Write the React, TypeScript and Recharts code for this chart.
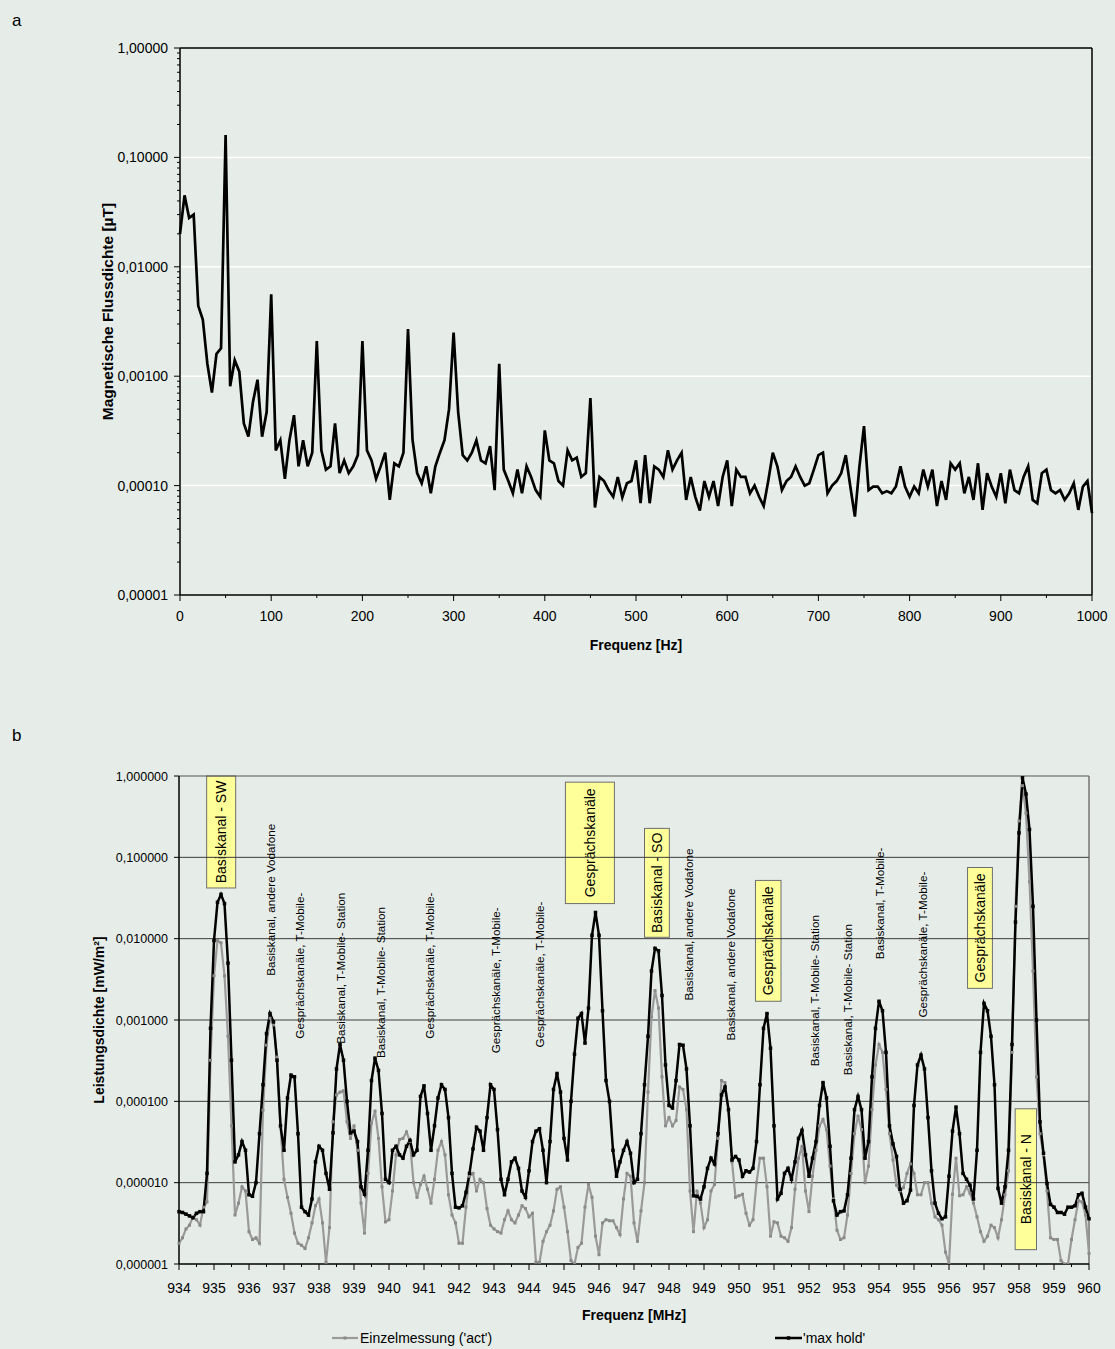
import React from "react";
import { LineChart, Line, XAxis, YAxis, ReferenceLine, ReferenceDot, ReferenceArea } from "recharts";

const BG = "#e6ede9";
const FONT = "'Liberation Sans', Arial, Helvetica, sans-serif";

// a) Magnetische Flussdichte 0–1000 Hz, eine Stützstelle alle 5 Hz
const HZ_STEP = 5;
const fluxUT = [
  0.02, 0.045, 0.028, 0.03, 4.4e-3, 3.3e-3, 1.3e-3, 7.1e-4, 1.6e-3, 1.8e-3,
  0.16, 8.1e-4, 1.4e-3, 1.1e-3, 3.7e-4, 2.8e-4, 5.8e-4, 9.3e-4, 2.8e-4, 4.7e-4,
  5.6e-3, 2.1e-4, 2.6e-4, 1.15e-4, 2.6e-4, 4.4e-4, 1.5e-4, 2.6e-4, 1.5e-4, 2.0e-4,
  2.1e-3, 2.1e-4, 1.4e-4, 1.5e-4, 3.7e-4, 1.3e-4, 1.7e-4, 1.3e-4, 1.5e-4, 1.9e-4,
  2.1e-3, 2.1e-4, 1.7e-4, 1.15e-4, 1.5e-4, 2.0e-4, 7.4e-5, 1.6e-4, 1.5e-4, 2.0e-4,
  2.7e-3, 2.6e-4, 1.3e-4, 1.05e-4, 1.5e-4, 8.5e-5, 1.5e-4, 2.0e-4, 2.6e-4, 5.0e-4,
  2.5e-3, 4.7e-4, 1.9e-4, 1.7e-4, 2.0e-4, 2.6e-4, 1.7e-4, 1.6e-4, 2.3e-4, 9.1e-5,
  1.3e-3, 1.4e-4, 1.1e-4, 8.5e-5, 1.4e-4, 8.5e-5, 1.5e-4, 1.2e-4, 9.1e-5, 7.9e-5,
  3.2e-4, 1.7e-4, 1.6e-4, 1.1e-4, 1.0e-4, 2.1e-4, 1.7e-4, 1.8e-4, 1.2e-4, 1.3e-4,
  6.3e-4, 6.3e-5, 1.2e-4, 1.1e-4, 9.1e-5, 7.9e-5, 1.2e-4, 7.8e-5, 1.05e-4, 1.1e-4,
  1.7e-4, 6.9e-5, 1.9e-4, 6.9e-5, 1.5e-4, 1.4e-4, 1.2e-4, 2.1e-4, 1.4e-4, 1.7e-4,
  2.0e-4, 7.4e-5, 1.2e-4, 7.9e-5, 5.9e-5, 1.1e-4, 7.9e-5, 1.1e-4, 6.5e-5, 1.2e-4,
  1.7e-4, 6.5e-5, 1.4e-4, 1.2e-4, 1.2e-4, 8.5e-5, 1.0e-4, 7.9e-5, 6.5e-5, 1.1e-4,
  2.0e-4, 1.5e-4, 9.1e-5, 1.1e-4, 1.2e-4, 1.5e-4, 1.2e-4, 1.0e-4, 1.05e-4, 1.4e-4,
  1.9e-4, 2.0e-4, 8.5e-5, 1.0e-4, 1.1e-4, 1.3e-4, 1.9e-4, 9.8e-5, 5.2e-5, 1.5e-4,
  3.5e-4, 9.1e-5, 9.8e-5, 9.8e-5, 8.5e-5, 8.9e-5, 8.5e-5, 9.8e-5, 1.5e-4, 9.8e-5,
  7.9e-5, 9.8e-5, 8.5e-5, 1.4e-4, 9.8e-5, 1.4e-4, 6.5e-5, 1.1e-4, 7.4e-5, 1.6e-4,
  1.4e-4, 1.6e-4, 8.5e-5, 1.2e-4, 7.4e-5, 1.6e-4, 6.0e-5, 1.3e-4, 9.8e-5, 7.9e-5,
  1.3e-4, 6.9e-5, 1.4e-4, 9.1e-5, 8.5e-5, 1.2e-4, 1.5e-4, 7.4e-5, 6.9e-5, 1.3e-4,
  1.4e-4, 9.1e-5, 8.5e-5, 9.1e-5, 7.4e-5, 8.5e-5, 1.05e-4, 6.0e-5, 9.8e-5, 1.1e-4,
  5.6e-5,
];
const hzTicks = [0, 50, 100, 150, 200, 250, 300, 350, 400, 450, 500, 550, 600, 650, 700, 750, 800, 850, 900, 950, 1000];
const fluxDecades = [1e-5, 1e-4, 1e-3, 1e-2, 1e-1, 1];

// b) Leistungsdichte 934–960 MHz, Schritt 0,1 MHz
const MHZ_START = 934;
const MHZ_STEP = 0.1;
const maxHold = [
  4.4e-6, 4.3e-6, 4.1e-6, 3.9e-6, 3.7e-6, 4.2e-6, 4.4e-6, 4.4e-6, 1.3e-5, 7.9e-4,
  9.5e-3, 2.8e-2, 3.5e-2, 2.7e-2, 5.0e-3, 3.2e-4, 1.8e-5, 2.2e-5, 3.2e-5, 2.5e-5,
  7.1e-6, 6.8e-6, 1.0e-5, 4.0e-5, 1.6e-4, 6.8e-4, 1.2e-3, 9.5e-4, 3.2e-4, 5.0e-5,
  2.5e-5, 1.1e-4, 2.1e-4, 2.0e-4, 4.0e-5, 5.0e-6, 4.4e-6, 4.0e-6, 6.3e-6, 1.8e-5,
  2.8e-5, 2.5e-5, 1.3e-5, 8.3e-6, 4.1e-5, 2.5e-4, 5.0e-4, 3.2e-4, 1.0e-4, 4.1e-5,
  4.3e-5, 3.2e-5, 8.9e-6, 7.2e-6, 2.5e-5, 1.8e-4, 3.4e-4, 2.4e-4, 7.1e-5, 1.1e-5,
  1.0e-5, 2.5e-5, 2.8e-5, 2.2e-5, 2.0e-5, 2.8e-5, 3.3e-5, 2.2e-5, 2.5e-5, 1.15e-4,
  1.55e-4, 7.1e-5, 2.5e-5, 5.0e-5, 1.1e-4, 1.6e-4, 1.4e-4, 6.3e-5, 1.3e-5, 5.0e-6,
  4.9e-6, 5.2e-6, 7.6e-6, 1.3e-5, 2.6e-5, 4.8e-5, 4.3e-5, 2.5e-5, 6.3e-5, 1.6e-4,
  1.4e-4, 4.5e-5, 1.1e-5, 7.1e-6, 1.1e-5, 1.8e-5, 2.0e-5, 1.5e-5, 7.9e-6, 6.6e-6,
  1.4e-5, 3.2e-5, 4.3e-5, 4.6e-5, 2.5e-5, 1.0e-5, 3.2e-5, 1.4e-4, 2.2e-4, 1.3e-4,
  3.5e-5, 1.9e-5, 1.0e-4, 3.8e-4, 1.05e-3, 1.2e-3, 5.2e-4, 1.4e-3, 1.1e-2, 2.1e-2,
  1.1e-2, 1.3e-3, 1.8e-4, 1.0e-4, 2.5e-5, 1.2e-5, 1.8e-5, 2.5e-5, 3.2e-5, 2.3e-5,
  1.0e-5, 1.1e-5, 4.0e-5, 1.6e-4, 6.3e-4, 4.0e-3, 7.6e-3, 7.1e-3, 2.0e-3, 2.8e-4,
  8.9e-5, 8.3e-5, 1.8e-4, 5.0e-4, 4.9e-4, 2.5e-4, 5.0e-5, 6.9e-6, 6.8e-6, 6.3e-6,
  8.9e-6, 1.5e-5, 2.0e-5, 1.7e-5, 4.0e-5, 1.2e-4, 1.5e-4, 7.9e-5, 1.9e-5, 2.1e-5,
  1.9e-5, 1.2e-5, 1.4e-5, 1.35e-5, 1.5e-5, 3.2e-5, 1.6e-4, 7.9e-4, 1.2e-3, 4.5e-4,
  5.0e-5, 6.3e-6, 7.4e-6, 1.3e-5, 1.5e-5, 1.1e-5, 1.8e-5, 3.5e-5, 4.4e-5, 2.2e-5,
  1.2e-5, 2.0e-5, 3.2e-5, 8.9e-5, 1.7e-4, 1.1e-4, 2.8e-5, 6.0e-6, 4.0e-6, 4.4e-6,
  4.5e-6, 7.1e-6, 2.0e-5, 7.9e-5, 1.15e-4, 7.9e-5, 2.0e-5, 3.2e-5, 2.0e-4, 7.9e-4,
  1.7e-3, 1.3e-3, 4.0e-4, 5.0e-5, 3.0e-5, 2.1e-5, 8.3e-6, 5.6e-6, 6.0e-6, 8.1e-6,
  8.9e-5, 2.8e-4, 3.7e-4, 2.5e-4, 6.3e-5, 1.4e-5, 5.6e-6, 4.2e-6, 3.6e-6, 3.8e-6,
  1.2e-5, 4.3e-5, 8.5e-5, 4.0e-5, 1.3e-5, 1.1e-5, 9.3e-6, 6.3e-6, 2.5e-5, 4.0e-4,
  1.6e-3, 1.3e-3, 6.3e-4, 1.6e-4, 8.5e-6, 5.6e-6, 8.9e-6, 2.5e-5, 5.0e-4, 1.6e-2,
  0.2, 0.95, 0.6, 0.22, 2.5e-2, 1.0e-3, 5.6e-5, 2.3e-5, 9.8e-6, 5.4e-6,
  5.0e-6, 4.3e-6, 4.3e-6, 4.1e-6, 5.0e-6, 5.0e-6, 5.2e-6, 7.1e-6, 7.4e-6, 5.0e-6,
  3.6e-6,
];
const act = [
  1.8e-6, 2.1e-6, 2.7e-6, 3.0e-6, 3.8e-6, 3.5e-6, 3.0e-6, 5.0e-6, 5.8e-6, 3.2e-4,
  3.5e-3, 9.5e-3, 8.9e-3, 3.5e-3, 6.3e-4, 5.0e-5, 4.0e-6, 5.6e-6, 8.9e-6, 7.9e-6,
  2.5e-6, 2.0e-6, 2.1e-6, 1.8e-6, 7.8e-5, 4.9e-4, 1.05e-3, 8.7e-4, 3.5e-4, 5.0e-5,
  1.1e-5, 6.6e-6, 4.2e-6, 2.4e-6, 1.8e-6, 1.7e-6, 1.55e-6, 2.1e-6, 3.2e-6, 5.2e-6,
  6.3e-6, 3.2e-6, 1.05e-6, 2.8e-6, 5.6e-5, 1.2e-4, 1.3e-4, 1.35e-4, 5.6e-5, 3.5e-5,
  5.0e-5, 2.5e-5, 5.6e-6, 2.4e-6, 1.3e-5, 5.4e-5, 7.6e-5, 3.5e-5, 8.9e-6, 3.3e-6,
  3.5e-6, 7.9e-6, 2.2e-5, 3.4e-5, 3.5e-5, 4.2e-5, 3.2e-5, 1.0e-5, 6.6e-6, 9.5e-6,
  1.2e-5, 8.3e-6, 5.6e-6, 1.1e-5, 2.5e-5, 3.2e-5, 2.2e-5, 7.1e-6, 4.0e-6, 3.2e-6,
  1.8e-6, 1.8e-6, 5.0e-6, 1.2e-5, 1.3e-5, 7.9e-6, 1.1e-5, 1.0e-5, 4.8e-6, 3.0e-6,
  2.7e-6, 2.5e-6, 2.4e-6, 3.5e-6, 4.5e-6, 3.5e-6, 3.2e-6, 4.0e-6, 5.2e-6, 4.8e-6,
  3.8e-6, 4.2e-6, 1.05e-6, 1.05e-6, 1.9e-6, 2.5e-6, 3.0e-6, 4.5e-6, 8.3e-6, 8.9e-6,
  5.0e-6, 2.5e-6, 1.1e-6, 1.0e-6, 1.6e-6, 1.8e-6, 5.0e-6, 9.5e-6, 6.6e-6, 2.2e-6,
  1.3e-6, 3.2e-6, 3.5e-6, 3.4e-6, 3.4e-6, 2.8e-6, 2.3e-6, 6.3e-6, 1.3e-5, 1.2e-5,
  3.2e-6, 1.9e-6, 4.5e-6, 1.0e-5, 1.3e-4, 1.1e-3, 2.3e-3, 1.4e-3, 2.0e-4, 5.0e-5,
  6.3e-5, 5.0e-5, 5.8e-5, 1.5e-4, 1.4e-4, 7.9e-5, 7.9e-6, 2.5e-6, 7.9e-6, 5.6e-6,
  2.8e-6, 3.5e-6, 7.9e-6, 9.5e-6, 3.5e-5, 1.8e-4, 1.7e-4, 7.9e-5, 1.8e-5, 6.6e-6,
  6.9e-6, 7.2e-6, 4.2e-6, 3.0e-6, 3.5e-6, 1.0e-5, 2.0e-5, 2.0e-5, 8.9e-6, 2.2e-6,
  3.3e-6, 3.2e-6, 2.2e-6, 2.1e-6, 1.9e-6, 2.8e-6, 8.3e-6, 2.0e-5, 2.8e-5, 7.9e-6,
  4.4e-6, 1.2e-5, 2.5e-5, 5.0e-5, 6.0e-5, 4.5e-5, 1.6e-5, 6.3e-6, 2.6e-6, 2.0e-6,
  2.1e-6, 4.0e-6, 1.3e-5, 4.0e-5, 6.6e-5, 4.5e-5, 1.0e-5, 1.6e-5, 7.9e-5, 2.8e-4,
  5.0e-4, 4.0e-4, 1.4e-4, 4.0e-5, 1.9e-5, 9.3e-6, 7.9e-6, 8.7e-6, 1.3e-5, 1.7e-5,
  1.3e-5, 7.1e-6, 7.1e-6, 1.0e-5, 1.0e-5, 5.6e-6, 3.8e-6, 3.5e-6, 3.0e-6, 1.4e-6,
  1.0e-6, 7.2e-6, 2.0e-5, 6.9e-6, 7.1e-6, 8.9e-6, 7.4e-6, 5.6e-6, 3.8e-6, 2.5e-6,
  1.9e-6, 2.2e-6, 3.0e-6, 2.8e-6, 2.1e-6, 3.5e-6, 7.1e-6, 1.4e-5, 4.0e-4, 2.5e-2,
  0.28, 0.76, 0.35, 5.0e-2, 4.0e-3, 2.0e-4, 4.0e-5, 2.2e-5, 7.9e-6, 2.1e-6,
  2.0e-6, 2.0e-6, 1.1e-6, 1.0e-6, 1.0e-6, 2.0e-6, 3.5e-6, 6.0e-6, 5.8e-6, 4.0e-6,
  1.35e-6,
];
const powerDecades = [1e-6, 1e-5, 1e-4, 1e-3, 1e-2, 1e-1, 1];

// Beschriftungen der Kanäle (Frequenz, Leistungsdichte am Textanfang)
const channelNotes = [
  { f: 936.62, v: 3.5e-3, text: "Basiskanal, andere Vodafone" },
  { f: 937.45, v: 5.9e-4, text: "Gesprächskanäle, T-Mobile-" },
  { f: 938.64, v: 5.1e-4, text: "Basiskanal, T-Mobile- Station" },
  { f: 939.76, v: 3.4e-4, text: "Basiskanal, T-Mobile- Station" },
  { f: 941.16, v: 5.9e-4, text: "Gesprächskanäle, T-Mobile-" },
  { f: 943.07, v: 3.9e-4, text: "Gesprächskanäle, T-Mobile-" },
  { f: 944.31, v: 4.6e-4, text: "Gesprächskanäle, T-Mobile-" },
  { f: 948.57, v: 1.74e-3, text: "Basiskanal, andere Vodafone" },
  { f: 949.76, v: 5.6e-4, text: "Basiskanal, andere Vodafone" },
  { f: 952.16, v: 2.7e-4, text: "Basiskanal, T-Mobile- Station" },
  { f: 953.11, v: 2.1e-4, text: "Basiskanal, T-Mobile- Station" },
  { f: 954.02, v: 5.6e-3, text: "Basiskanal, T-Mobile-" },
  { f: 955.26, v: 1.07e-3, text: "Gesprächskanäle, T-Mobile-" },
];
const boxNotes = [
  { f1: 934.79, f2: 935.62, v1: 0.042, v2: 1, text: "Basiskanal - SW" },
  { f1: 945.04, f2: 946.44, v1: 0.027, v2: 0.84, text: "Gesprächskanäle" },
  { f1: 947.3, f2: 948.01, v1: 1.04e-2, v2: 0.227, text: "Basiskanal - SO" },
  { f1: 950.47, f2: 951.2, v1: 1.7e-3, v2: 0.052, text: "Gesprächskanäle" },
  { f1: 956.53, f2: 957.24, v1: 2.45e-3, v2: 0.075, text: "Gesprächskanäle" },
  { f1: 957.89, f2: 958.5, v1: 1.5e-6, v2: 8.1e-5, text: "Basiskanal - N" },
];

const topData = fluxUT.map((v, i) => ({ f: i * HZ_STEP, v }));
const bottomData = maxHold.map((v, i) => ({
  f: Math.round((MHZ_START + i * MHZ_STEP) * 10) / 10,
  max: v,
  act: act[i],
}));

const fluxTicks: number[] = [];
fluxDecades.forEach((d) => {
  if (d >= 1) { fluxTicks.push(d); return; }
  for (let m = 1; m <= 9; m++) fluxTicks.push(d * m);
});
const mhzTicks = Array.from({ length: 53 }, (_, i) => MHZ_START + i * 0.5);

const comma = (v: number, d: number) => v.toFixed(d).replace(".", ",");
const isDecade = (v: number) => Math.abs(Math.log10(v) - Math.round(Math.log10(v))) < 1e-6;

const FluxYTick = ({ x, y, payload }: any) => {
  const major = isDecade(payload.value);
  return (
    <g>
      <line x1={x - (major ? 6 : 3)} x2={x} y1={y} y2={y} stroke="#000" />
      {major && (
        <text x={x - 12} y={y + 5} textAnchor="end" fontSize={14} fontFamily={FONT} fill="#000">
          {comma(payload.value, 5)}
        </text>
      )}
    </g>
  );
};

const HzTick = ({ x, y, payload }: any) => {
  const major = payload.value % 100 === 0;
  return (
    <g>
      <line x1={x} x2={x} y1={y} y2={y + (major ? 6 : 3)} stroke="#000" />
      {major && (
        <text x={x} y={y + 26} textAnchor="middle" fontSize={14} fontFamily={FONT} fill="#000">
          {payload.value}
        </text>
      )}
    </g>
  );
};

const PowerYTick = ({ x, y, payload }: any) => (
  <g>
    <line x1={x - 5} x2={x} y1={y} y2={y} stroke="#000" />
    <text x={x - 11} y={y + 4.5} textAnchor="end" fontSize={12.5} fontFamily={FONT} fill="#000">
      {comma(payload.value, 6)}
    </text>
  </g>
);

const MhzTick = ({ x, y, payload }: any) => {
  const major = Number.isInteger(payload.value);
  return (
    <g>
      <line x1={x} x2={x} y1={y} y2={y + (major ? 6 : 3)} stroke="#000" />
      {major && (
        <text x={x} y={y + 29} textAnchor="middle" fontSize={14} fontFamily={FONT} fill="#000">
          {payload.value}
        </text>
      )}
    </g>
  );
};

const squareDot = (color: string, size: number) => (p: any) => {
  if (p.cx == null || p.cy == null) return <g key={p.index} />;
  return <rect key={p.index} x={p.cx - size / 2} y={p.cy - size / 2} width={size} height={size} fill={color} />;
};

const xTitle = (text: string, dy: number) => (p: any) => {
  const vb = p.viewBox;
  return (
    <text x={vb.x + vb.width / 2} y={vb.y + dy} textAnchor="middle" fontSize={14} fontWeight="bold" fontFamily={FONT} fill="#000">
      {text}
    </text>
  );
};

const yTitle = (text: string, cx: number, size: number, shift: number) => (p: any) => {
  const vb = p.viewBox;
  const cy = vb.y + vb.height / 2 + shift;
  return (
    <text transform={`rotate(-90 ${cx} ${cy})`} x={cx} y={cy} textAnchor="middle" dominantBaseline="central" fontSize={size} fontWeight="bold" fontFamily={FONT} fill="#000">
      {text}
    </text>
  );
};

export default function App() {
  return (
    <div style={{ position: "absolute", left: 0, top: 0, width: 1115, height: 1349, background: BG, fontFamily: FONT }}>
      <svg style={{ position: "absolute", left: 0, top: 0 }} width={60} height={760}>
        <text x={12} y={26} fontSize={17} fontFamily={FONT} fill="#000">a</text>
        <text x={12} y={741} fontSize={17} fontFamily={FONT} fill="#000">b</text>
      </svg>

      <div style={{ position: "absolute", left: 0, top: 0 }}>
        <LineChart width={1115} height={655} data={topData} margin={{ top: 48, right: 23, bottom: 0, left: 0 }}>
          {[1e-4, 1e-3, 1e-2, 1e-1].map((d) => (
            <ReferenceLine key={d} y={d} stroke="#ffffff" strokeWidth={1.5} />
          ))}
          <ReferenceLine y={1} stroke="#000" strokeWidth={1.5} />
          <ReferenceLine x={1000} stroke="#000" strokeWidth={1.5} />
          <XAxis
            dataKey="f"
            type="number"
            domain={[0, 1000]}
            ticks={hzTicks}
            interval={0}
            height={60}
            tickSize={0}
            tickMargin={0}
            tickLine={false}
            axisLine={{ stroke: "#000", strokeWidth: 1.5 }}
            tick={<HzTick />}
            label={{ content: xTitle("Frequenz [Hz]", 55) }}
          />
          <YAxis
            type="number"
            scale="log"
            domain={[1e-5, 1]}
            allowDataOverflow
            ticks={fluxTicks}
            interval={0}
            width={180}
            tickSize={0}
            tickMargin={0}
            tickLine={false}
            axisLine={{ stroke: "#000", strokeWidth: 1.5 }}
            tick={<FluxYTick />}
            label={{ content: yTitle("Magnetische Flussdichte [µT]", 107, 15.5, -10) }}
          />
          <Line dataKey="v" type="linear" stroke="#000" strokeWidth={2.7} dot={false} activeDot={false} isAnimationActive={false} />
        </LineChart>
      </div>

      <div style={{ position: "absolute", left: 0, top: 700 }}>
        <LineChart width={1115} height={624} data={bottomData} margin={{ top: 76, right: 26, bottom: 0, left: 0 }}>
          {[1e-5, 1e-4, 1e-3, 1e-2, 1e-1].map((d) => (
            <ReferenceLine key={d} y={d} stroke="#3c3c3c" strokeWidth={1} />
          ))}
          <ReferenceLine y={1} stroke="#555" strokeWidth={1.2} />
          <ReferenceLine x={960} stroke="#555" strokeWidth={1.2} />
          <XAxis
            dataKey="f"
            type="number"
            domain={[934, 960]}
            ticks={mhzTicks}
            interval={0}
            height={60}
            tickSize={0}
            tickMargin={0}
            tickLine={false}
            axisLine={{ stroke: "#000", strokeWidth: 1.5 }}
            tick={<MhzTick />}
            label={{ content: xTitle("Frequenz [MHz]", 56) }}
          />
          <YAxis
            type="number"
            scale="log"
            domain={[1e-6, 1]}
            allowDataOverflow
            ticks={powerDecades}
            interval={0}
            width={179}
            tickSize={0}
            tickMargin={0}
            tickLine={false}
            axisLine={{ stroke: "#000", strokeWidth: 1.5 }}
            tick={<PowerYTick />}
            label={{ content: yTitle("Leistungsdichte [mW/m²]", 99, 14, 0) }}
          />
          <Line dataKey="act" type="linear" stroke="#9a9a9a" strokeWidth={2.2} dot={squareDot("#8a8a8a", 3)} activeDot={false} isAnimationActive={false} />
          <Line dataKey="max" type="linear" stroke="#000" strokeWidth={2.5} dot={squareDot("#000", 3.5)} activeDot={false} isAnimationActive={false} />
          {channelNotes.map((n, i) => (
            <ReferenceDot
              key={"c" + i}
              x={n.f}
              y={n.v}
              r={0}
              ifOverflow="visible"
              shape={(p: any) => (
                <text
                  transform={`rotate(-90 ${p.cx + 4} ${p.cy})`}
                  x={p.cx + 4}
                  y={p.cy}
                  textAnchor="start"
                  fontSize={11.7}
                  fontFamily={FONT}
                  fill="#000"
                >
                  {n.text}
                </text>
              )}
            />
          ))}
          {boxNotes.map((b, i) => (
            <ReferenceArea
              key={"b" + i}
              x1={b.f1}
              x2={b.f2}
              y1={b.v1}
              y2={b.v2}
              ifOverflow="visible"
              shape={(p: any) => {
                const cx = p.x + p.width / 2;
                const cy = p.y + p.height / 2;
                return (
                  <g>
                    <rect x={p.x} y={p.y} width={p.width} height={p.height} fill="#ffff99" stroke="#6e6e6e" strokeWidth={1} />
                    <text
                      transform={`rotate(-90 ${cx} ${cy})`}
                      x={cx}
                      y={cy}
                      textAnchor="middle"
                      dominantBaseline="central"
                      fontSize={14}
                      fontFamily={FONT}
                      fill="#000"
                    >
                      {b.text}
                    </text>
                  </g>
                );
              }}
            />
          ))}
        </LineChart>
      </div>

      <svg style={{ position: "absolute", left: 0, top: 1326 }} width={1115} height={23}>
        <line x1={332} x2={358} y1={12} y2={12} stroke="#9a9a9a" strokeWidth={2.2} />
        <rect x={343.5} y={10.5} width={3} height={3} fill="#8a8a8a" />
        <text x={360} y={17} fontSize={14} fontFamily={FONT} fill="#000">Einzelmessung ('act')</text>
        <line x1={775} x2={802} y1={12} y2={12} stroke="#000" strokeWidth={2.5} />
        <rect x={786.75} y={10.25} width={3.5} height={3.5} fill="#000" />
        <text x={803} y={17} fontSize={14} fontFamily={FONT} fill="#000">'max hold'</text>
      </svg>
    </div>
  );
}
